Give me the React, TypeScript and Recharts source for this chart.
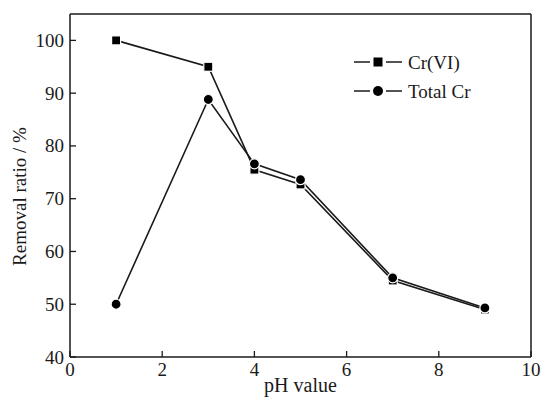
import React from 'react';
import { LineChart, Line, XAxis, YAxis, ReferenceLine } from 'recharts';

const phValues = [1, 3, 4, 5, 7, 9];
const crVI = [100, 95, 75.5, 72.7, 54.5, 49];
const totalCr = [50, 88.8, 76.6, 73.6, 55, 49.3];
const xTicks = [0, 2, 4, 6, 8, 10];
const yTicks = [40, 50, 60, 70, 80, 90, 100];
const xDomain = [0, 10];
const yDomain = [40, 105];
const seriesNames = ['Cr(VI)', 'Total Cr'];

const data = phValues.map((ph, i) => ({ ph, crVI: crVI[i], totalCr: totalCr[i] }));

const FONT = '"Liberation Serif", "Times New Roman", serif';
const INK = '#1a1a1a';

const XTick = (props: any) => {
  const { x, y, payload } = props;
  return (
    <g>
      <line x1={x} x2={x} y1={y} y2={y - 6} stroke={INK} strokeWidth={1.3} />
      <text x={x} y={y + 18.5} textAnchor="middle" fontFamily={FONT} fontSize={19} fill={INK}>
        {payload.value}
      </text>
    </g>
  );
};

const YTick = (props: any) => {
  const { x, y, payload } = props;
  return (
    <g>
      <line x1={x} x2={x + 6} y1={y} y2={y} stroke={INK} strokeWidth={1.3} />
      <text x={x - 6} y={y + 6.5} textAnchor="end" fontFamily={FONT} fontSize={19} fill={INK}>
        {payload.value}
      </text>
    </g>
  );
};

const YLabel = (props: any) => {
  const vb = props.viewBox || { x: 0, y: 0, width: 70, height: 343 };
  const cx = vb.x + 26;
  const cy = vb.y + vb.height / 2 + 11;
  return (
    <text
      transform={`translate(${cx},${cy}) rotate(-90)`}
      textAnchor="middle"
      fontFamily={FONT}
      fontSize={19}
      fill={INK}
    >
      Removal ratio / %
    </text>
  );
};

const SquareDot = (props: any) => {
  const { cx, cy } = props;
  if (cx == null || cy == null) return null;
  return <rect x={cx - 4.5} y={cy - 4.5} width={9} height={9} fill="#000" stroke="#fff" strokeWidth={1.2} />;
};

const CircleDot = (props: any) => {
  const { cx, cy } = props;
  if (cx == null || cy == null) return null;
  return <circle cx={cx} cy={cy} r={5} fill="#000" stroke="#fff" strokeWidth={1.2} />;
};

const LegendBox = () => (
  <svg width={140} height={60} style={{ position: 'absolute', left: 352, top: 52 }}>
    {seriesNames.map((name, i) => {
      const y = 10 + i * 29;
      return (
        <g key={name}>
          <line x1={2} x2={18} y1={y} y2={y} stroke={INK} strokeWidth={1.5} />
          <line x1={34} x2={50} y1={y} y2={y} stroke={INK} strokeWidth={1.5} />
          {i === 0 ? (
            <rect x={21.5} y={y - 4.5} width={9} height={9} fill="#000" />
          ) : (
            <circle cx={26} cy={y} r={5} fill="#000" />
          )}
          <text x={56} y={y + 6.5} fontFamily={FONT} fontSize={19} fill={INK}>
            {name}
          </text>
        </g>
      );
    })}
  </svg>
);

export default function App() {
  return (
    <div style={{ position: 'absolute', left: 0, top: 0, width: 544, height: 403, background: '#fff' }}>
      <LineChart width={544} height={403} data={data} margin={{ top: 14, right: 13, bottom: 0, left: 0 }}>
        <XAxis
          dataKey="ph"
          type="number"
          domain={xDomain}
          ticks={xTicks}
          height={46}
          tickSize={0}
          tickMargin={0}
          tick={XTick}
          tickLine={false}
          axisLine={{ stroke: INK, strokeWidth: 1.5 }}
          label={{ value: 'pH value', position: 'insideBottom', offset: 11, fontFamily: FONT, fontSize: 20, fill: INK }}
        />
        <YAxis
          type="number"
          domain={yDomain}
          ticks={yTicks}
          width={70}
          tickSize={0}
          tickMargin={0}
          tick={YTick}
          tickLine={false}
          axisLine={{ stroke: INK, strokeWidth: 1.5 }}
          label={{ content: YLabel }}
        />
        <ReferenceLine x={xDomain[1]} stroke={INK} strokeWidth={1.5} ifOverflow="extendDomain" />
        <ReferenceLine y={yDomain[1]} stroke={INK} strokeWidth={1.5} ifOverflow="extendDomain" />
        <Line
          dataKey="crVI"
          name={seriesNames[0]}
          stroke={INK}
          strokeWidth={1.6}
          dot={SquareDot}
          activeDot={false}
          isAnimationActive={false}
        />
        <Line
          dataKey="totalCr"
          name={seriesNames[1]}
          stroke={INK}
          strokeWidth={1.6}
          dot={CircleDot}
          activeDot={false}
          isAnimationActive={false}
        />
      </LineChart>
      <LegendBox />
    </div>
  );
}
